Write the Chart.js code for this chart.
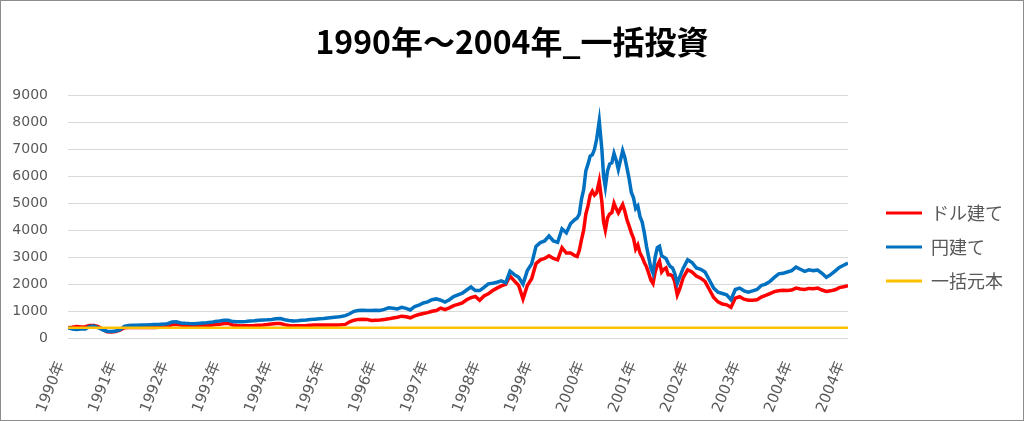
<!DOCTYPE html>
<html>
<head>
<meta charset="utf-8">
<title>1990年～2004年_一括投資</title>
<script src="https://cdn.jsdelivr.net/npm/chart.js@4.4.0/dist/chart.umd.min.js"></script>
<style>
  html, body { margin: 0; padding: 0; background: #fff; }
  #wrap { width: 1024px; height: 421px; box-sizing: border-box; border: 1px solid #8c8c8c; }
  canvas { display: block; }
</style>
</head>
<body>
<div id="wrap"><canvas id="chart" width="1022" height="419"></canvas></div>
<script>
/* ---------- DATA (month index from 1990/01) ---------- */
const xTickLabels = ["1990年","1991年","1992年","1993年","1994年","1995年","1996年","1997年",
                     "1998年","1999年","2000年","2001年","2002年","2003年","2004年","2004年"];

const monthIndex = [
  0,1,2,3,4,5,6,7,8,9,10,11,
  12,13,14,15,16,17,18,19,20,21,22,23,
  24,25,26,27,28,29,30,31,32,33,34,35,
  36,37,38,39,40,41,42,43,44,45,46,47,
  48,49,50,51,52,53,54,55,56,57,58,59,
  60,61,62,63,64,65,66,67,68,69,70,71,
  72,73,74,75,76,77,78,79,80,81,82,83,
  84,85,86,87,88,89,90,91,92,93,94,95,
  96,97,98,99,100,101,102,103,104,105,106,107,
  108,109,110,111,112,113,114,115,116,117,
  117.5,118,118.5,119,119.5,120,120.5,121,121.5,122,122.6,123.2,123.6,124,124.5,
  125,125.5,126,126.5,127,127.5,128,128.5,129,129.5,130,130.5,131,131.5,132,132.5,
  133,133.5,134,134.5,135,135.5,136,136.5,137,137.5,138,138.5,139,139.5,140,140.6,141.2,142,143,
  144,145,146,147,148,149,150,151,152,153,154,155,
  156,157,158,159,160,161,162,163,164,165,166,167,
  168,169,170,171,172,173,174,175,176,177,178,179,180
];

// 円建て
const yenValues = [
  380,330,320,330,330,430,440,380,300,250,240,260,
  310,430,460,470,470,480,480,490,500,505,515,530,
  590,600,560,545,535,530,542,555,565,580,610,630,
  655,660,610,600,600,610,630,640,655,665,675,690,
  715,720,675,650,630,640,660,670,685,700,710,722,
  740,760,775,800,830,900,990,1020,1030,1020,1020,1030,
  1020,1060,1120,1100,1080,1140,1100,1040,1170,1220,1300,1340,
  1420,1450,1400,1330,1420,1540,1600,1660,1780,1890,1760,1760,
  1880,2010,2030,2070,2120,2050,2480,2350,2250,2000,2500,2750,
  3400,3540,3600,3790,3600,3550,4050,3900,4250,4400,
  4450,4600,5150,5500,6200,6450,6750,6800,7000,7380,8050,7000,6000,5600,6200,
  6450,6500,6850,6600,6250,6600,6950,6700,6300,5900,5400,5200,4800,4900,4500,4300,
  3900,3400,3000,2600,2400,3000,3350,3400,3050,3000,2950,2780,2650,2600,2400,2030,2280,2600,2900,
  2800,2600,2550,2450,2150,1850,1700,1650,1600,1420,1800,1850,
  1750,1700,1750,1800,1950,2000,2100,2250,2380,2400,2450,2500,
  2630,2550,2470,2530,2500,2520,2400,2250,2350,2480,2620,2700,2780
];

// ドル建て
const dollarValues = [
  380,400,430,410,420,465,460,420,320,230,220,240,
  290,380,390,390,385,390,390,390,390,395,400,430,
  500,510,480,465,458,455,446,455,458,470,500,510,
  535,540,485,465,450,450,455,460,475,485,500,520,
  540,540,495,465,450,450,458,462,470,480,482,482,
  482,482,484,490,505,600,660,690,700,690,650,660,
  670,690,710,740,770,810,790,750,820,870,910,940,
  990,1020,1110,1050,1120,1200,1250,1300,1420,1500,1540,1400,
  1560,1640,1760,1850,1930,1990,2300,2120,1950,1450,1950,2200,
  2760,2900,2950,3050,2950,2900,3350,3150,3150,3050,
  3020,3250,3650,4000,4600,4900,5300,5450,5300,5380,5820,5050,4300,4000,4450,
  4600,4650,5000,4800,4640,4800,4950,4700,4380,4150,3900,3700,3300,3450,3150,3000,
  2800,2640,2400,2150,2020,2450,2700,2850,2450,2550,2600,2350,2350,2300,2100,1600,1840,2250,2530,
  2450,2300,2220,2100,1800,1500,1340,1260,1230,1140,1480,1530,
  1440,1400,1400,1420,1520,1580,1650,1720,1750,1770,1760,1780,
  1850,1820,1800,1840,1830,1850,1780,1730,1750,1790,1870,1900,1940
];

// 一括元本
const principal = 380;
const principalMonths = [0, 180];

/* ---------- LAYOUT ---------- */
const LEGEND_LEFT = 885;   // left of the first legend swatch
const LEGEND_TOP = 203;    // top of the first legend row

const legendPlace = {
  id: 'legendPlace',
  afterLayout(chart) {
    const lg = chart.legend;
    if (!lg || !lg.columnSizes || !lg.columnSizes.length) return;
    const pad = lg.options.labels.padding;
    const dx = LEGEND_LEFT - (lg.left + pad);
    const curY = (lg.top + pad + lg.bottom - lg.columnSizes[0].height) / 2;
    const dy = LEGEND_TOP - curY;
    lg.left += dx; lg.right += dx; lg.top += dy; lg.bottom += dy;
  }
};

const toPoints = (xs, ys) => xs.map((x, i) => ({x: x, y: ys[i]}));

Chart.defaults.font.family = '"DejaVu Sans", "Noto Sans CJK JP", sans-serif';
Chart.defaults.color = '#595959';

new Chart(document.getElementById('chart'), {
  type: 'line',
  data: {
    datasets: [
      {label: 'ドル建て', data: toPoints(monthIndex, dollarValues), borderColor: '#ff0000', backgroundColor: '#ff0000', borderWidth: 3.5, order: 2},
      {label: '円建て', data: toPoints(monthIndex, yenValues), borderColor: '#0070c0', backgroundColor: '#0070c0', borderWidth: 3.5, order: 1},
      {label: '一括元本', data: principalMonths.map(m => ({x: m, y: principal})), borderColor: '#ffc000', backgroundColor: '#ffc000', borderWidth: 2.5, order: 0}
    ]
  },
  options: {
    responsive: false,
    animation: false,
    layout: {padding: 0},
    elements: {point: {radius: 0}, line: {tension: 0}},
    plugins: {
      title: {
        display: true,
        text: '1990年～2004年_一括投資',
        color: '#000',
        font: {family: '"Noto Sans CJK JP", sans-serif', size: 32, weight: 'bold'},
        padding: {top: 22, bottom: 34}
      },
      legend: {
        position: 'right',
        maxWidth: 140,
        labels: {
          font: {family: '"Noto Sans CJK JP", sans-serif', size: 18},
          color: '#595959',
          boxWidth: 36,
          boxHeight: 3,
          padding: 16,
          sort: (a, b) => a.datasetIndex - b.datasetIndex,
          generateLabels(chart) {
            const items = Chart.defaults.plugins.legend.labels.generateLabels(chart);
            items.forEach(it => { it.lineWidth = 0; it.fillStyle = it.strokeStyle; });
            return items;
          }
        }
      },
      tooltip: {enabled: false}
    },
    scales: {
      x: {
        type: 'linear',
        min: 0, max: 180,
        grid: {display: false},
        border: {display: false},
        ticks: {
          stepSize: 12,
          autoSkip: false,
          minRotation: 68, maxRotation: 68,
          padding: 13,
          labelOffset: -7,
          font: {size: 15},
          color: '#595959',
          callback: v => xTickLabels[Math.round(v / 12)]
        },
        afterFit(scale) { scale.height = 82; }
      },
      y: {
        min: 0, max: 9000,
        grid: {color: '#d9d9d9', lineWidth: 1, drawTicks: false},
        border: {display: false},
        ticks: {stepSize: 1000, padding: 20, font: {size: 14}, color: '#595959', callback: v => String(v)},
        afterFit(scale) { scale.width = 67; }
      },
      // empty gap between plot and legend
      yGap: {
        position: 'right',
        grid: {display: false},
        border: {display: false},
        ticks: {display: false},
        afterFit(scale) { scale.width = 35; }
      }
    }
  },
  plugins: [legendPlace]
});
</script>
</body>
</html>
